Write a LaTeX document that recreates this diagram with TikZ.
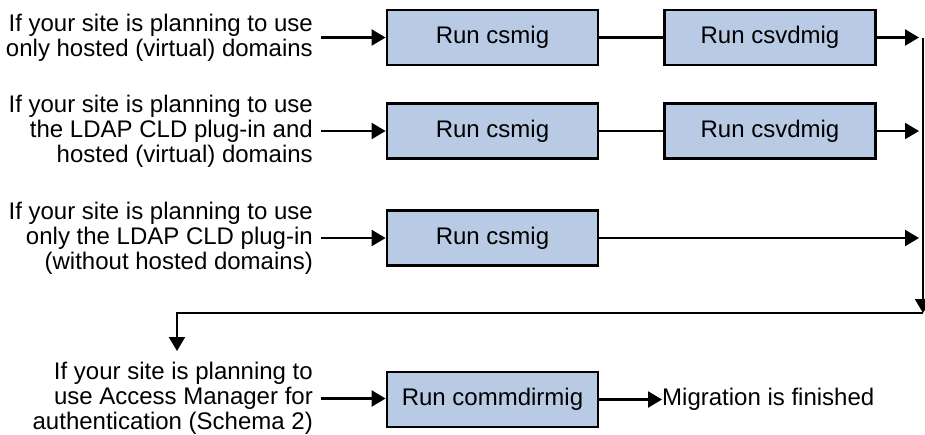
\documentclass[tikz,border=0pt]{standalone}
\usepackage{fontspec}
\setmainfont{Liberation Sans}
\usetikzlibrary{arrows.meta}
\definecolor{boxfill}{RGB}{185,203,228}
\tikzset{
  runbox/.style={draw=black, line width=2.8pt, fill=boxfill, minimum width=211pt, minimum height=55pt, inner sep=0pt, font=\fontsize{24}{25}\selectfont},
  cond/.style={align=right, anchor=east, inner sep=0pt, font=\fontsize{24}{25}\selectfont},
  conn/.style={line width=2.2pt},
  arr/.style={conn, -{Triangle[length=14pt,width=16pt]}},
}
\begin{document}
\begin{tikzpicture}[x=1pt,y=-1pt]
\useasboundingbox (0,0) rectangle (925,434);
% row 1
\node[cond] (t1) at (313,37.5) {If your site is planning to use\\only hosted (virtual) domains};
\node[runbox] (a1) at (492.5,37.5) {Run csmig};
\node[runbox] (b1) at (770,37.5) {Run csvdmig};
\coordinate (e1) at (919,37.5);
% row 2
\node[cond] (t2) at (313,131) {If your site is planning to use\\the LDAP CLD plug-in and\\hosted (virtual) domains};
\node[runbox] (a2) at (492.5,131) {Run csmig};
\node[runbox] (b2) at (770,131) {Run csvdmig};
\coordinate (e2) at (919,131);
% row 3
\node[cond] (t3) at (313,238) {If your site is planning to use\\only the LDAP CLD plug-in\\(without hosted domains)};
\node[runbox] (a3) at (492.5,238) {Run csmig};
\coordinate (e3) at (919,238);
% collector
\coordinate (vtop) at (923,37.5);
\coordinate (vbot) at (923,313);
\coordinate (hl) at (177,313);
\coordinate (dn) at (177,351);
% row 4
\node[cond] (t4) at (313,398.5) {If your site is planning to\\use Access Manager for\\authentication (Schema 2)};
\node[runbox] (a4) at (492.5,399.5) {Run commdirmig};
\node[anchor=west, inner sep=0pt, font=\fontsize{24}{25}\selectfont] (fin) at (662,399.5) {Migration is finished};

\draw[arr, shorten <=8pt] (t1.east) -- (a1.west);
\draw[conn] (a1.east) -- (b1.west);
\draw[arr] (b1.east) -- (e1);
\draw[arr, shorten <=8pt] (t2.east) -- (a2.west);
\draw[conn] (a2.east) -- (b2.west);
\draw[arr] (b2.east) -- (e2);
\draw[arr, shorten <=8pt] (t3.east) -- (a3.west);
\draw[arr] (a3.east) -- (e3);
\draw[arr] (vtop) -- (vbot);
\draw[arr] (vbot) -- (hl) -- (dn);
\draw[arr, shorten <=8pt] (t4.east) -- (a4.west |- t4.east);
\draw[arr] (a4.east) -- (fin.west);
\end{tikzpicture}
\end{document}
